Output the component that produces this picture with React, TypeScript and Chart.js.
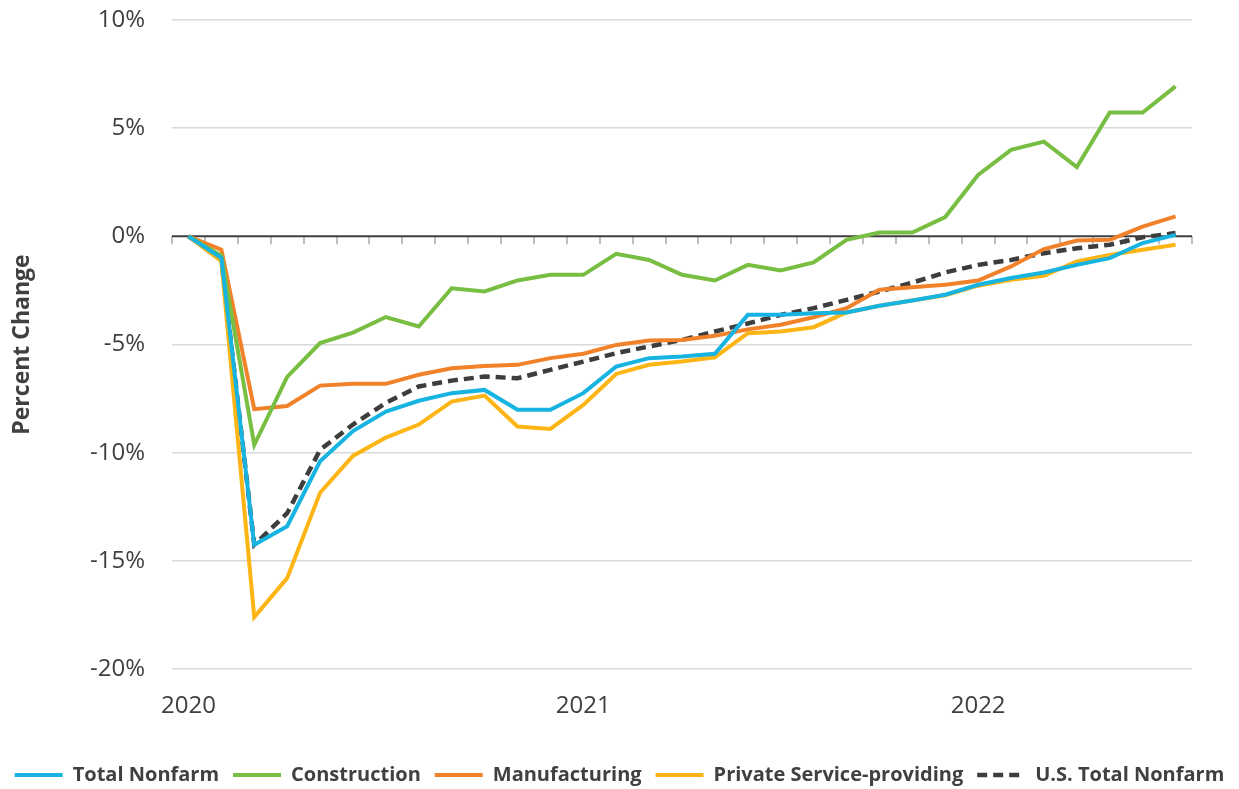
import React, { useEffect, useRef } from 'react';
import { Chart, registerables } from 'chart.js';

Chart.register(...registerables);

const months: string[] = [
  '2020-01', '2020-02', '2020-03', '2020-04', '2020-05', '2020-06', '2020-07', '2020-08', '2020-09', '2020-10', '2020-11', '2020-12',
  '2021-01', '2021-02', '2021-03', '2021-04', '2021-05', '2021-06', '2021-07', '2021-08', '2021-09', '2021-10', '2021-11', '2021-12',
  '2022-01', '2022-02', '2022-03', '2022-04', '2022-05', '2022-06', '2022-07',
];

const totalNonfarm: number[] = [
  0, -1.0, -14.26, -13.4, -10.4, -9.0, -8.1, -7.6, -7.25, -7.1, -8.02, -8.02,
  -7.25, -6.02, -5.63, -5.56, -5.43, -3.63, -3.63, -3.55, -3.52, -3.21, -2.97, -2.7,
  -2.24, -1.93, -1.67, -1.32, -1.01, -0.31, 0.07,
];

const construction: number[] = [
  0, -0.9, -9.64, -6.5, -4.93, -4.45, -3.73, -4.17, -2.4, -2.55, -2.04, -1.78,
  -1.78, -0.81, -1.09, -1.78, -2.04, -1.32, -1.58, -1.21, -0.16, 0.18, 0.18, 0.89,
  2.84, 4.0, 4.38, 3.2, 5.72, 5.72, 6.93,
];

const manufacturing: number[] = [
  0, -0.62, -7.99, -7.84, -6.9, -6.82, -6.82, -6.4, -6.1, -5.99, -5.94, -5.63,
  -5.43, -5.02, -4.82, -4.79, -4.6, -4.3, -4.09, -3.74, -3.32, -2.47, -2.35, -2.24,
  -2.04, -1.39, -0.59, -0.19, -0.16, 0.45, 0.92,
];

const privateService: number[] = [
  0, -1.15, -17.6, -15.8, -11.85, -10.15, -9.3, -8.7, -7.64, -7.36, -8.79, -8.9,
  -7.79, -6.36, -5.94, -5.79, -5.59, -4.48, -4.4, -4.2, -3.52, -3.21, -2.97, -2.72,
  -2.28, -2.01, -1.83, -1.16, -0.86, -0.62, -0.39,
];

const usTotalNonfarm: number[] = [
  0, -1.05, -14.26, -12.8, -9.87, -8.7, -7.7, -6.94, -6.67, -6.48, -6.56, -6.17,
  -5.79, -5.4, -5.09, -4.79, -4.4, -4.03, -3.63, -3.32, -2.94, -2.55, -2.14, -1.67,
  -1.32, -1.09, -0.78, -0.55, -0.39, -0.04, 0.15,
];

const seriesNames: string[] = ['Total Nonfarm', 'Construction', 'Manufacturing', 'Private Service-providing', 'U.S. Total Nonfarm'];
const yTicks: number[] = [-20, -15, -10, -5, 0, 5, 10];

const FONT = "'Open Sans', 'DejaVu Sans', sans-serif";
const TEXT = '#404040';

const zeroTickPlugin = {
  id: 'zeroTicks',
  beforeDatasetsDraw(chart: any) {
    const { ctx, chartArea, scales } = chart;
    const x = scales.x;
    const y = scales.y;
    const y0 = y.getPixelForValue(0);
    const n = chart.data.labels.length;
    const step = x.getPixelForValue(1) - x.getPixelForValue(0);
    ctx.save();
    ctx.strokeStyle = '#bfbfbf';
    ctx.lineWidth = 2;
    for (let i = 0; i <= n; i++) {
      const px = Math.round(x.getPixelForValue(0) - step / 2 + i * step);
      ctx.beginPath();
      ctx.moveTo(px, y0);
      ctx.lineTo(px, y0 + 8);
      ctx.stroke();
    }
    ctx.strokeStyle = '#3f3f3f';
    ctx.lineWidth = 2;
    ctx.beginPath();
    ctx.moveTo(chartArea.left, y0);
    ctx.lineTo(chartArea.right, y0);
    ctx.stroke();
    ctx.restore();
  },
};

export default function App() {
  const canvasRef = useRef<HTMLCanvasElement | null>(null);

  useEffect(() => {
    document.body.style.margin = '0';
    const canvas = canvasRef.current;
    if (!canvas) return;

    const mk = (label: string, data: number[], color: string, dash?: number[]) => ({
      label,
      data,
      borderColor: color,
      backgroundColor: color,
      borderWidth: dash ? 4.5 : 4,
      borderDash: dash || [],
      pointRadius: 0,
      pointHoverRadius: 0,
      tension: 0,
      fill: false,
      yAxisID: 'y',
    });

    const defaultLabels = (Chart as any).defaults.plugins.legend.labels.generateLabels;

    const chart = new Chart(canvas, {
      type: 'line',
      data: {
        labels: months,
        datasets: [
          mk(seriesNames[0], totalNonfarm, '#17B3E1'),
          mk(seriesNames[1], construction, '#78BE42'),
          mk(seriesNames[2], manufacturing, '#F2822A'),
          mk(seriesNames[3], privateService, '#FDB515'),
          mk(seriesNames[4], usTotalNonfarm, '#3d3d3d', [10, 6]),
        ],
      },
      options: {
        responsive: false,
        animation: false,
        layout: { padding: { left: 0, right: 0, top: 0, bottom: -6 } },
        plugins: {
          legend: {
            position: 'bottom',
            labels: {
              usePointStyle: true,
              pointStyle: 'line',
              pointStyleWidth: 48,
              padding: 14,
              color: TEXT,
              font: { family: FONT, size: 20, weight: 'bold' },
              generateLabels: (c: any) =>
                defaultLabels(c).map((item: any) => {
                  const ds = c.data.datasets[item.datasetIndex];
                  return { ...item, lineDash: ds.borderDash || [], lineWidth: ds.borderWidth, strokeStyle: ds.borderColor };
                }),
            },
          },
          tooltip: { enabled: false },
        },
        scales: {
          x: {
            type: 'category',
            offset: true,
            grid: { display: false, drawTicks: false },
            border: { display: false },
            ticks: {
              autoSkip: false,
              maxRotation: 0,
              minRotation: 0,
              padding: 23,
              color: TEXT,
              font: { family: FONT, size: 24 },
              callback: (_v: any, i: number) => (months[i].endsWith('-01') ? months[i].slice(0, 4) : ''),
            },
            afterFit: (s: any) => { s.height = 82; },
          },
          y: {
            position: 'left',
            min: -20,
            max: 10,
            afterBuildTicks: (s: any) => { s.ticks = yTicks.map((v) => ({ value: v })); },
            grid: {
              drawTicks: false,
              color: (c: any) => (c.tick && c.tick.value === 0 ? 'rgba(0,0,0,0)' : '#d9d9d9'),
              lineWidth: 1.5,
            },
            border: { display: false },
            ticks: {
              padding: 27,
              color: TEXT,
              font: { family: FONT, size: 24 },
              callback: (v: any) => `${v}%`,
            },
            title: {
              display: true,
              text: 'Percent Change',
              color: TEXT,
              font: { family: FONT, size: 23, weight: 'bold' },
              padding: { top: 9, bottom: 0 },
            },
            afterFit: (s: any) => {
              s.width = 172;
              s.paddingTop = 20;
              s.paddingBottom = 15;
            },
          },
          yRight: {
            type: 'linear',
            position: 'right',
            min: -20,
            max: 10,
            grid: { display: false, drawTicks: false },
            border: { display: false },
            ticks: { display: false },
            afterFit: (s: any) => { s.width = 47; s.paddingTop = 0; s.paddingBottom = 0; },
          },
        },
      },
      plugins: [zeroTickPlugin],
    });

    return () => chart.destroy();
  }, []);

  return (
    <div style={{ width: 1239, height: 789, background: '#fff' }}>
      <canvas ref={canvasRef} width={1239} height={789} style={{ display: 'block' }} />
    </div>
  );
}
